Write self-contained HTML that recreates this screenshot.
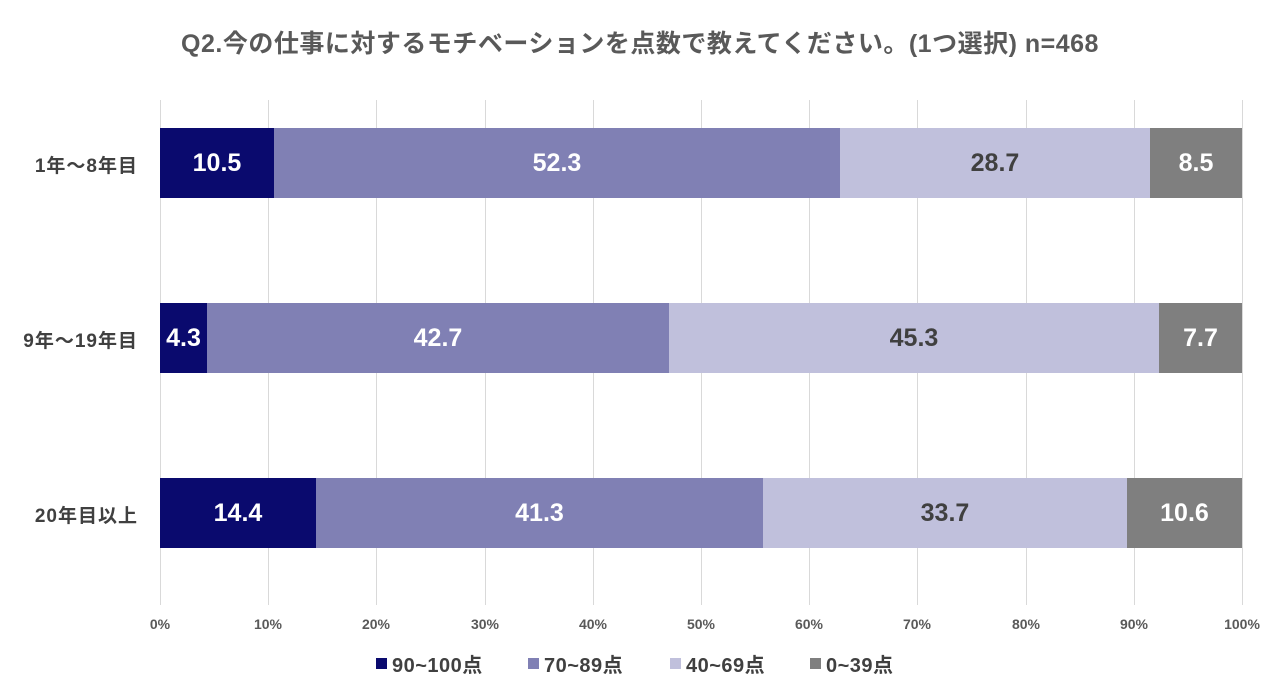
<!DOCTYPE html>
<html><head><meta charset="utf-8"><style>
body{margin:0;width:1280px;height:688px;background:#fff;position:relative;overflow:hidden;font-family:"Liberation Sans","Noto Sans CJK JP",sans-serif;}
.a{position:absolute}
.g{position:absolute;top:100px;height:505px;width:1px;background:#d9d9d9}
.s{position:absolute;height:70px;display:flex;align-items:center;justify-content:center;font-weight:bold;font-size:25px}
.t{position:absolute;top:616px;font-size:14px;font-weight:bold;color:#595959;width:60px;margin-left:-30px;text-align:center}
.c{position:absolute;left:0;width:138px;text-align:right;font-size:19px;letter-spacing:1px;font-weight:bold;color:#404040}
.l{position:absolute;top:649px;font-size:20px;font-weight:bold;color:#404040;display:flex;align-items:center;letter-spacing:0.5px}
.l i{display:inline-block;width:11px;height:11px;margin-right:5px}
</style></head><body>
<div class="a" style="left:0;width:1280px;top:24px;text-align:center;font-size:25px;letter-spacing:0.5px;font-weight:bold;color:#595959">Q2.今の仕事に対するモチベーションを点数で教えてください。(1つ選択) n=468</div>
<div class="g" style="left:160px"></div><div class="g" style="left:268px"></div><div class="g" style="left:376px"></div><div class="g" style="left:485px"></div><div class="g" style="left:593px"></div><div class="g" style="left:701px"></div><div class="g" style="left:809px"></div><div class="g" style="left:917px"></div><div class="g" style="left:1026px"></div><div class="g" style="left:1134px"></div><div class="g" style="left:1242px"></div>

<div class="s" style="top:128px;left:160px;width:114px;background:#0a0a6e;color:#fff">10.5</div>
<div class="s" style="top:128px;left:274px;width:566px;background:#8080b4;color:#fff">52.3</div>
<div class="s" style="top:128px;left:840px;width:310px;background:#c0c0dc;color:#404040">28.7</div>
<div class="s" style="top:128px;left:1150px;width:92px;background:#7f7f7f;color:#fff">8.5</div>

<div class="s" style="top:303px;left:160px;width:47px;background:#0a0a6e;color:#fff">4.3</div>
<div class="s" style="top:303px;left:207px;width:462px;background:#8080b4;color:#fff">42.7</div>
<div class="s" style="top:303px;left:669px;width:490px;background:#c0c0dc;color:#404040">45.3</div>
<div class="s" style="top:303px;left:1159px;width:83px;background:#7f7f7f;color:#fff">7.7</div>

<div class="s" style="top:478px;left:160px;width:156px;background:#0a0a6e;color:#fff">14.4</div>
<div class="s" style="top:478px;left:316px;width:447px;background:#8080b4;color:#fff">41.3</div>
<div class="s" style="top:478px;left:763px;width:364px;background:#c0c0dc;color:#404040">33.7</div>
<div class="s" style="top:478px;left:1127px;width:115px;background:#7f7f7f;color:#fff">10.6</div>

<div class="c" style="top:151px">1年～8年目</div>
<div class="c" style="top:326px">9年～19年目</div>
<div class="c" style="top:501px">20年目以上</div>

<div class="t" style="left:160px">0%</div><div class="t" style="left:268px">10%</div><div class="t" style="left:376px">20%</div><div class="t" style="left:485px">30%</div><div class="t" style="left:593px">40%</div><div class="t" style="left:701px">50%</div><div class="t" style="left:809px">60%</div><div class="t" style="left:917px">70%</div><div class="t" style="left:1026px">80%</div><div class="t" style="left:1134px">90%</div><div class="t" style="left:1242px">100%</div>

<div class="l" style="left:376px"><i style="background:#0a0a6e"></i>90~100点</div>
<div class="l" style="left:528px"><i style="background:#8080b4"></i>70~89点</div>
<div class="l" style="left:670px"><i style="background:#c0c0dc"></i>40~69点</div>
<div class="l" style="left:810px"><i style="background:#7f7f7f"></i>0~39点</div>
</body></html>
